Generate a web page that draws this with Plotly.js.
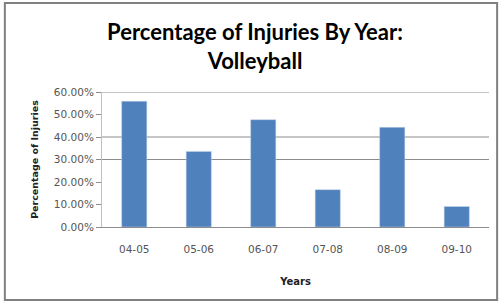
<!DOCTYPE html>
<html><head><meta charset="utf-8">
<script src="https://cdn.plot.ly/plotly-3.0.1.min.js"></script>
<style>html,body{margin:0;padding:0;background:#fff}</style>
</head><body><div id="chart" style="width:500px;height:304px"></div>
<script>
const categories = ["04-05","05-06","06-07","07-08","08-09","09-10"];
const injuryPct = [0.559, 0.336, 0.477, 0.166, 0.443, 0.091];
const yTickVals = [0, 0.1, 0.2, 0.3, 0.4, 0.5, 0.6];
const yTickText = ["0.00%","10.00%","20.00%","30.00%","40.00%","50.00%","60.00%"];
const visibleGrid = [0.3, 0.4, 0.6];

const shapes = visibleGrid.map(v => ({type:'line', xref:'paper', yref:'y', x0:0, x1:1, y0:v, y1:v, line:{color:'#8c8c8c', width:1}, layer:'below'}));
shapes.push({type:'rect', xref:'paper', yref:'paper', x0:-0.251, x1:1.021, y0:-0.541, y1:1.659, line:{color:'#808080', width:2}, fillcolor:'rgba(0,0,0,0)'});

Plotly.newPlot('chart', [{
  type:'bar', x:categories, y:injuryPct,
  marker:{color:'#4f81bd', line:{color:'#c6d4e8', width:0.5}}
}], {
  width:500, height:304,
  margin:{l:102, r:11, t:92, b:77},
  paper_bgcolor:'#fff', plot_bgcolor:'#fff',
  bargap:0.61,
  showlegend:false,
  title:{text:'Percentage of Injuries By Year:<br>Volleyball', x:0.51, xanchor:'center', y:0.868, yanchor:'middle',
    font:{family:'Lato, "Open Sans", sans-serif', size:22, color:'#000', weight:'bold', lineposition:'none'}},
  xaxis:{type:'category', showgrid:false, showline:true, linecolor:'#8c8c8c', ticks:'', zeroline:false,
    ticklabelstandoff:12,
    tickfont:{family:'"DejaVu Sans", sans-serif', size:10.5, color:'#555'},
    title:{text:'<b>Years</b>', font:{family:'"DejaVu Sans", sans-serif', size:10, color:'#222'}, standoff:24}},
  yaxis:{range:[0,0.6], tickvals:yTickVals, ticktext:yTickText, showgrid:false, zeroline:false,
    showline:true, linecolor:'#c0c0c0', ticks:'outside', ticklen:5, tickcolor:'#8c8c8c',
    tickfont:{family:'"DejaVu Sans", sans-serif', size:10.5, color:'#555'},
    title:{text:'<b>Percentage of Injuries</b>', font:{family:'"DejaVu Sans", sans-serif', size:9.5, color:'#222'}, standoff:13}},
  shapes:shapes
}, {staticPlot:true, displayModeBar:false});
</script></body></html>
